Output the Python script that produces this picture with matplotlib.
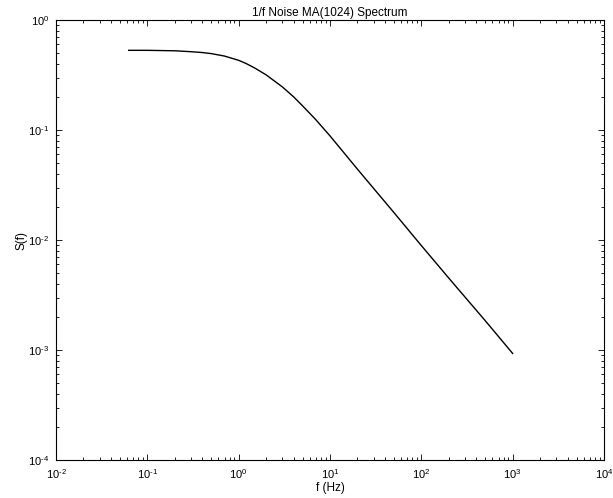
import matplotlib
matplotlib.use("Agg")
import math
import matplotlib.pyplot as plt
from matplotlib.ticker import FixedLocator, FuncFormatter

plt.rcParams['font.family'] = ['Liberation Sans', 'DejaVu Sans']
plt.rcParams['mathtext.fontset'] = 'custom'
plt.rcParams['mathtext.rm'] = 'Liberation Sans'
plt.rcParams['mathtext.it'] = 'Liberation Sans:italic'
plt.rcParams['mathtext.default'] = 'regular'
plt.rcParams['axes.unicode_minus'] = False

freq = [0.0625, 0.1, 0.2, 0.3, 0.4, 0.5, 0.7, 1.0, 1.2, 1.5, 2.0, 3.0, 4.0,
        5.0, 7.0, 10, 20, 50, 100, 200, 500, 1000]
spectrum = [0.53, 0.53, 0.525, 0.515, 0.506, 0.495, 0.47, 0.43, 0.403, 0.366,
            0.317, 0.247, 0.20, 0.166, 0.124, 0.0884, 0.044, 0.0178, 0.0089,
            0.0045, 0.00185, 0.00093]

x_decades = [-2, -1, 0, 1, 2, 3, 4]
y_decades = [-4, -3, -2, -1, 0]

title = "1/f Noise MA(1024) Spectrum"
xlabel = "f (Hz)"
ylabel = "S(f)"


def fmt(v, pos):
    e = int(round(math.log10(v)))
    return r'$10^{%s}$' % str(e).replace('-', '\u2010')


def minors(decs):
    out = []
    for d in decs[:-1]:
        for m in range(2, 10):
            out.append(m * 10.0 ** d)
    return out


fig = plt.figure(figsize=(6.13, 4.98), dpi=100)
ax = fig.add_axes([56/613, 1 - 460/498, (604-56)/613, (460-20)/498])
ax.plot(freq, spectrum, color='black', linewidth=1.0)
ax.set_xscale('log')
ax.set_yscale('log')
ax.set_xlim(1e-2, 1e4)
ax.set_ylim(1e-4, 1e0)
ax.xaxis.set_major_locator(FixedLocator([10.0 ** d for d in x_decades]))
ax.yaxis.set_major_locator(FixedLocator([10.0 ** d for d in y_decades]))
ax.xaxis.set_minor_locator(FixedLocator(minors(x_decades)))
ax.yaxis.set_minor_locator(FixedLocator(minors(y_decades)))
ax.xaxis.set_major_formatter(FuncFormatter(fmt))
ax.yaxis.set_major_formatter(FuncFormatter(fmt))
ax.xaxis.set_minor_formatter(FuncFormatter(lambda v, p: ''))
ax.yaxis.set_minor_formatter(FuncFormatter(lambda v, p: ''))
ax.tick_params(which='both', direction='in', top=True, right=True, labelsize=8,
               width=0.6)
ax.tick_params(which='major', length=4.5)
ax.tick_params(which='minor', length=2.5)
ax.tick_params(axis='y', which='major', pad=5)
ax.tick_params(axis='x', which='major', pad=5)
for s in ax.spines.values():
    s.set_linewidth(0.8)
ax.set_title(title, fontsize=8.5, pad=3)
ax.set_xlabel(xlabel, fontsize=8.5, labelpad=1)
ax.set_ylabel(ylabel, fontsize=8.5, labelpad=0)

fig.savefig("out.png", dpi=100, facecolor='white')
